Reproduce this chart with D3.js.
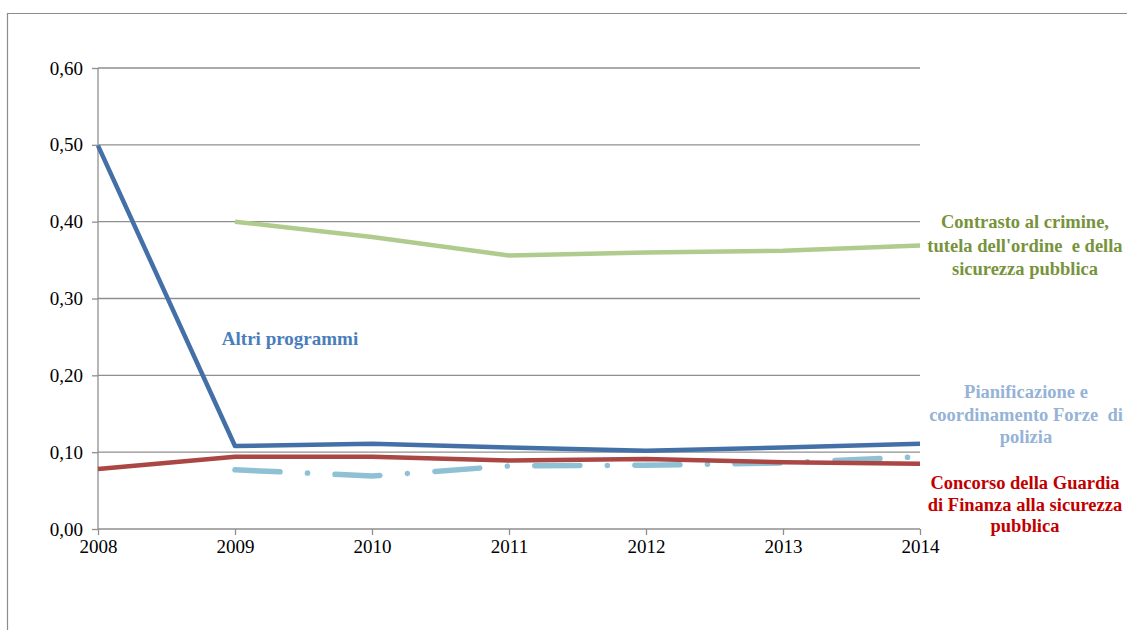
<!DOCTYPE html>
<html><head><meta charset="utf-8">
<script src="https://cdn.jsdelivr.net/npm/d3@7"></script>
<style>body{margin:0;background:#fff;} svg{display:block;} text{font-family:'Liberation Serif','Times New Roman',serif;}</style>
</head><body>
<svg id="c" width="1127" height="630"></svg>
<script>
const years = [2008, 2009, 2010, 2011, 2012, 2013, 2014];
const yTicks = [0, 0.1, 0.2, 0.3, 0.4, 0.5, 0.6];
const altri = [0.499, 0.108, 0.111, 0.106, 0.102, 0.106, 0.111];
const contrasto = [null, 0.400, 0.380, 0.356, 0.360, 0.362, 0.369];
const concorso = [0.078, 0.094, 0.094, 0.089, 0.091, 0.087, 0.085];
const pianificazione = [null, 0.077, 0.069, 0.082, 0.083, 0.086, 0.094];

const FONT = "'Liberation Serif','Times New Roman',serif";
const svg = d3.select('#c');
const x = d3.scaleLinear().domain([2008, 2014]).range([98, 920]);
const y = d3.scaleLinear().domain([0, 0.6]).range([529, 68]);
const fmt = v => d3.format('.2f')(v).replace('.', ',');

// outer border
svg.append('path').attr('d', 'M7.5,640 V13.5 H1140').attr('fill', 'none').attr('stroke', '#8c8c8c').attr('stroke-width', 1.2);

// grid
svg.append('g').selectAll('line').data(yTicks.filter(d => d > 0)).join('line')
  .attr('x1', x(2008)).attr('x2', x(2014)).attr('y1', d => y(d)).attr('y2', d => y(d))
  .attr('stroke', '#8f8f8f').attr('stroke-width', 1.3);

// axes
const ya = svg.append('g').attr('transform', `translate(${x(2008)},0)`)
  .call(d3.axisLeft(y).tickValues(yTicks).tickFormat(fmt).tickSize(6).tickPadding(9));
const xa = svg.append('g').attr('transform', `translate(0,${y(0)})`)
  .call(d3.axisBottom(x).tickValues(years).tickFormat(d3.format('d')).tickSize(6).tickPadding(5));
[ya, xa].forEach(a => {
  a.attr('font-family', null).attr('font-size', null);
  a.selectAll('path,line').attr('stroke', '#8f8f8f').attr('stroke-width', 1.3);
  a.selectAll('text').style('font-family', FONT).style('font-size', '19px').attr('fill', '#000');
});
ya.select('.domain').attr('d', `M0,${y(0)}V${y(0.6)}`);
xa.select('.domain').attr('d', `M${x(2008)},0H${x(2014)}`);

const line = d3.line().defined(d => d != null).x((d, i) => x(years[i])).y(d => y(d));
function draw(data, color, w, dash) {
  const p = svg.append('path').datum(data).attr('d', line).attr('fill', 'none')
    .attr('stroke', color).attr('stroke-width', w).attr('stroke-linejoin', 'round');
  if (dash) p.attr('stroke-dasharray', dash).attr('stroke-linecap', 'round');
  return p;
}
draw(contrasto, '#afcc8e', 4.5);
draw(pianificazione, '#8fc1d5', 5.5, '45,27.5,0.1,27.5');
draw(concorso, '#aa4643', 4.5);
draw(altri, '#4470a8', 4.5);

const labels = [
  { lines: ['Altri programmi'], cx: 290, y0: 345, color: '#4a7ebb', lh: 0, fs: 19 },
  { lines: ['Contrasto al crimine,', "tutela dell'ordine  e della", 'sicurezza pubblica'], cx: 1025, y0: 228, color: '#77933c', lh: 23.5, fs: 18.5 },
  { lines: ['Pianificazione e', 'coordinamento Forze  di', 'polizia'], cx: 1026, y0: 398, color: '#95b3d7', lh: 22.5, fs: 18.5 },
  { lines: ['Concorso della Guardia', 'di Finanza alla sicurezza', 'pubblica'], cx: 1025, y0: 489, color: '#c00000', lh: 21.5, fs: 18.5 },
];
labels.forEach(l => {
  const t = svg.append('text').attr('text-anchor', 'middle')
    .style('font-family', FONT).style('font-weight', 'bold').style('font-size', l.fs + 'px')
    .attr('fill', l.color).style('white-space', 'pre');
  l.lines.forEach((s, i) => t.append('tspan').attr('x', l.cx).attr('y', l.y0 + i * l.lh).text(s));
});
</script>
</body></html>
